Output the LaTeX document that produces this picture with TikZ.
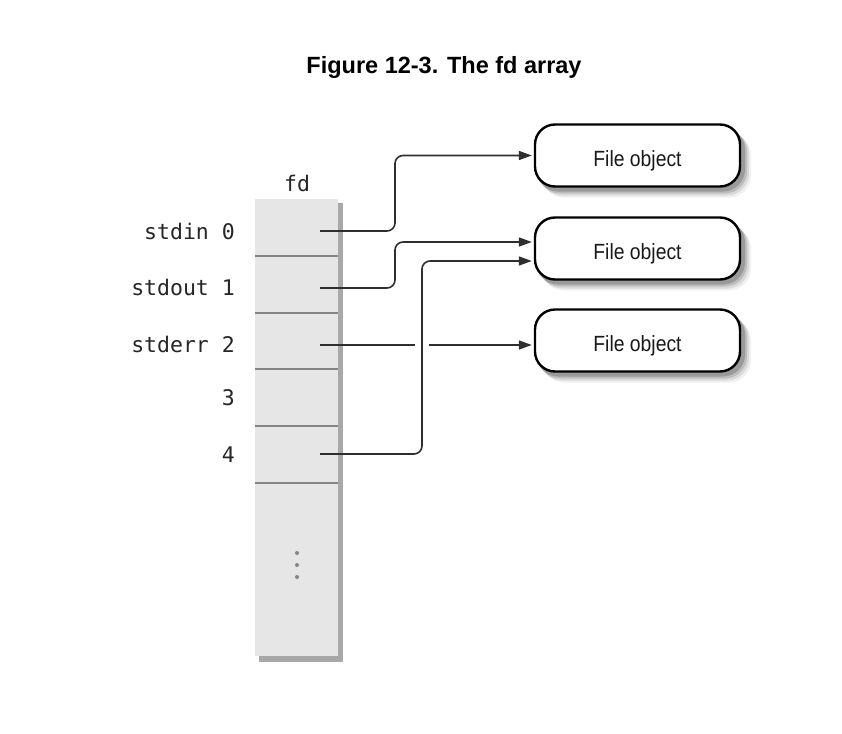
\documentclass[tikz,border=0pt]{standalone}
\usepackage{fontspec}
\setmainfont{Liberation Sans}
\newfontfamily\monof{DejaVu Sans Mono}
\newfontfamily\condf[FakeStretch=0.88]{Liberation Sans}
\usetikzlibrary{arrows.meta,calc}
\definecolor{cellfill}{HTML}{E6E6E6}
\definecolor{cellshadow}{HTML}{A8A8A8}
\definecolor{divider}{HTML}{858585}
\definecolor{linecol}{HTML}{2E2E2E}
\tikzset{
  lbl/.style={font=\monof\fontsize{21.5}{24}\selectfont, text=black!85, inner sep=0pt, anchor=base east},
  fileobj/.style={draw=black, line width=2.4pt, fill=white, rounded corners=20pt,
    minimum width=205pt, minimum height=62pt, inner sep=0pt},
  fotext/.style={font=\condf\fontsize{22}{24}\selectfont, text=black!90, inner sep=0pt, anchor=base},
  conn/.style={draw=linecol, line width=1.6pt, rounded corners=8pt},
  tip/.style={-{Triangle[length=13pt,width=9pt]}, shorten >=2pt},
  divline/.style={draw=divider, line width=2.2pt},
}
\begin{document}
\begin{tikzpicture}[x=1pt,y=-1pt]
\useasboundingbox (0,0) rectangle (842,733);
\fill[white] (0,0) rectangle (842,733);
% title
\node[font=\bfseries\fontsize{23.5}{26}\selectfont, anchor=base, inner sep=0pt] (title) at (444,74) {Figure 12-3. The fd array};
% fd column
\fill[cellshadow] (338,203) rectangle (343,662);
\fill[cellshadow] (259,656) rectangle (343,662);
\fill[cellfill] (255,199) rectangle (338,656);
\foreach \yy in {256,313,369,426,483} \draw[divline] (255,\yy) -- (338,\yy);
\foreach \yy in {553,565,577} \fill[divider] (297,\yy) circle (2pt);
\node[font=\monof\fontsize{21.5}{24}\selectfont, text=black!85, anchor=base, inner sep=0pt] (fdlbl) at (297,191) {fd};
% row labels
\node[lbl] (l0) at (235,239) {stdin 0};
\node[lbl] (l1) at (235,295) {stdout 1};
\node[lbl] (l2) at (235,352) {stderr 2};
\node[lbl] (l3) at (235,405) {3};
\node[lbl] (l4) at (235,462) {4};
% cell anchor points
\coordinate (c0) at (320,231);
\coordinate (c1) at (320,288);
\coordinate (c2) at (320,345);
\coordinate (c4) at (320,454);
% file objects with shadows
\foreach \yy/\nm in {155.5/f1,248.5/f2,340.5/f3}{
  \foreach \o/\op in {11/0.06,9/0.09,7/0.13,5/0.18}{
    \fill[black, opacity=\op, rounded corners=22pt] (535+\o-4,\yy-31+\o-2) rectangle (740+\o,\yy+31+\o);
  }
  \node[fileobj] (\nm) at (637.5,\yy) {};
  \node[fotext] (\nm t) at (637.5,\yy+11) {File object};
}
% connectors
\draw[conn,tip] (c0) -- (395,231) |- (f1.west);
\draw[conn,tip] (c1) -- (395,288) |- ($(f2.west)+(0,-6.5)$);
\draw[conn,tip] (c4) -- (422,454) |- ($(f2.west)+(0,12.5)$);
\coordinate (g1) at (415,345);
\coordinate (g2) at (429,345);
\draw[conn] (c2) -- (g1);
\draw[conn,tip] (g2) -- ($(f3.west)+(0,4.5)$);
\end{tikzpicture}
\end{document}
